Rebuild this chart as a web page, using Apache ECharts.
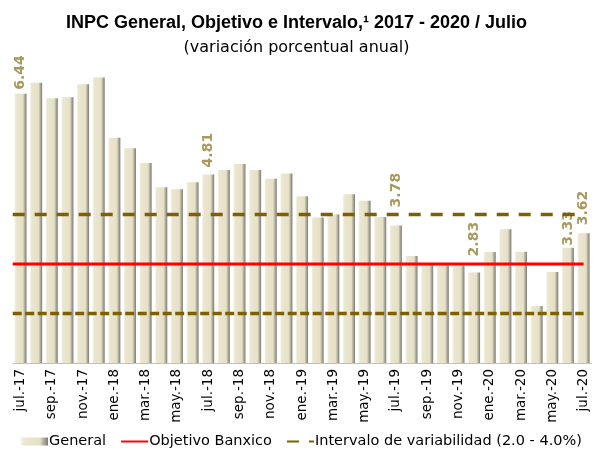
<!DOCTYPE html>
<html>
<head>
<meta charset="utf-8">
<script src="https://cdn.jsdelivr.net/npm/echarts@6/dist/echarts.min.js"></script>
<style>html,body{margin:0;padding:0;background:#fff}#c{width:593px;height:453px}</style>
</head>
<body>
<div id="c"></div>
<script>
var months = ['jul.-17','ago.-17','sep.-17','oct.-17','nov.-17','dic.-17',
  'ene.-18','feb.-18','mar.-18','abr.-18','may.-18','jun.-18','jul.-18','ago.-18','sep.-18','oct.-18','nov.-18','dic.-18',
  'ene.-19','feb.-19','mar.-19','abr.-19','may.-19','jun.-19','jul.-19','ago.-19','sep.-19','oct.-19','nov.-19','dic.-19',
  'ene.-20','feb.-20','mar.-20','abr.-20','may.-20','jun.-20','jul.-20'];
var general = [6.44,6.66,6.35,6.37,6.63,6.77,
  5.55,5.34,5.04,4.55,4.51,4.65,4.81,4.90,5.02,4.90,4.72,4.83,
  4.37,3.94,4.00,4.41,4.28,3.95,3.78,3.16,3.00,3.02,2.97,2.83,
  3.24,3.70,3.25,2.15,2.84,3.33,3.62];
var labelled = ['jul.-17','jul.-18','jul.-19','dic.-19','jun.-20','jul.-20'];
var objetivo = 3.0;
var intervaloInf = 2.0;
var intervaloSup = 4.0;

// label gap above bar (style, px)
var labelGap = {'jul.-17':4,'jul.-18':7,'jul.-19':18,'dic.-19':16,'jun.-20':2,'jul.-20':8};

var font = 'DejaVu Sans';
var chart = echarts.init(document.getElementById('c'), null, {renderer:'canvas'});
var yMin = 1, yMax = 8;
var barGrad = new echarts.graphic.LinearGradient(0,0,1,0,[
  {offset:0,color:'#f6f3e6'},{offset:0.12,color:'#ebe6d0'},{offset:0.7,color:'#e6e0c7'},
  {offset:0.82,color:'#b9b5a3'},{offset:1,color:'#7d7b72'}]);
var option = {
  animation:false,
  title:[{text:'INPC General, Objetivo e Intervalo,\u00b9 2017 - 2020 / Julio', left:'center', top:9,
          textStyle:{fontFamily:'Liberation Sans', fontWeight:'bold', fontSize:18, color:'#000'}},
         {text:'(variación porcentual anual)', left:'center', top:35,
          textStyle:{fontFamily:font, fontWeight:'normal', fontSize:16, color:'#000'}}],
  grid:[{left:12.7, right:1.6, top:16.5, bottom:90},
        {left:12.7, right:9.4, top:16.5, bottom:90}],
  xAxis:[{type:'category', gridIndex:0, data:months, boundaryGap:true,
          axisLine:{lineStyle:{color:'#c0c0c0'}},
          axisTick:{interval:1, length:4, lineStyle:{color:'#808080'}},
          axisLabel:{interval:1, rotate:90, fontFamily:font, fontSize:13.5, color:'#000', margin:6}},
         {type:'category', gridIndex:1, data:months, boundaryGap:false, show:false}],
  yAxis:[{type:'value', gridIndex:0, min:yMin, max:yMax, show:false, splitLine:{show:false}},
         {type:'value', gridIndex:1, min:yMin, max:yMax, show:false, splitLine:{show:false}}],
  legend:{bottom:-1, left:16, itemWidth:27, itemHeight:8, itemGap:14,
          textStyle:{fontFamily:font, fontSize:14.5, color:'#000', padding:[0,0,0,-4]},
          data:[{name:'General', icon:'rect'},{name:'Objetivo Banxico'},{name:'Intervalo de variabilidad (2.0 - 4.0%)'}]},
  series:[
    {name:'General', type:'bar', xAxisIndex:0, yAxisIndex:0, barWidth:12,
     itemStyle:{color:barGrad},
     data:general.map(function(v,i){
       var o={value:v};
       if(labelled.indexOf(months[i])>=0){
         o.label={show:true, position:'top', rotate:90, align:'left', verticalAlign:'middle', distance:labelGap[months[i]],
                  formatter:function(p){return p.value.toFixed(2);},
                  fontFamily:font, fontWeight:'bold', fontSize:14, color:'#a89a5e'};
       }
       return o;
     })},
    {name:'Objetivo Banxico', type:'line', xAxisIndex:1, yAxisIndex:1, symbol:'none', z:5,
     lineStyle:{color:'#ff0000', width:3}, itemStyle:{color:'#ff0000', opacity:0},
     data:months.map(function(){return objetivo;})},
    {name:'Intervalo de variabilidad (2.0 - 4.0%)', type:'line', xAxisIndex:1, yAxisIndex:1, symbol:'none', z:5,
     lineStyle:{color:'#7f6000', width:3.5, type:[12,10]}, itemStyle:{color:'#7f6000', opacity:0},
     data:months.map(function(){return intervaloSup;})},
    {name:'Intervalo de variabilidad (2.0 - 4.0%)', type:'line', xAxisIndex:1, yAxisIndex:1, symbol:'none', z:5,
     lineStyle:{color:'#7f6000', width:3.5, type:[9,3.5]}, itemStyle:{color:'#7f6000', opacity:0},
     data:months.map(function(){return intervaloInf;})}
  ]
};
chart.setOption(option);
</script>
</body>
</html>
